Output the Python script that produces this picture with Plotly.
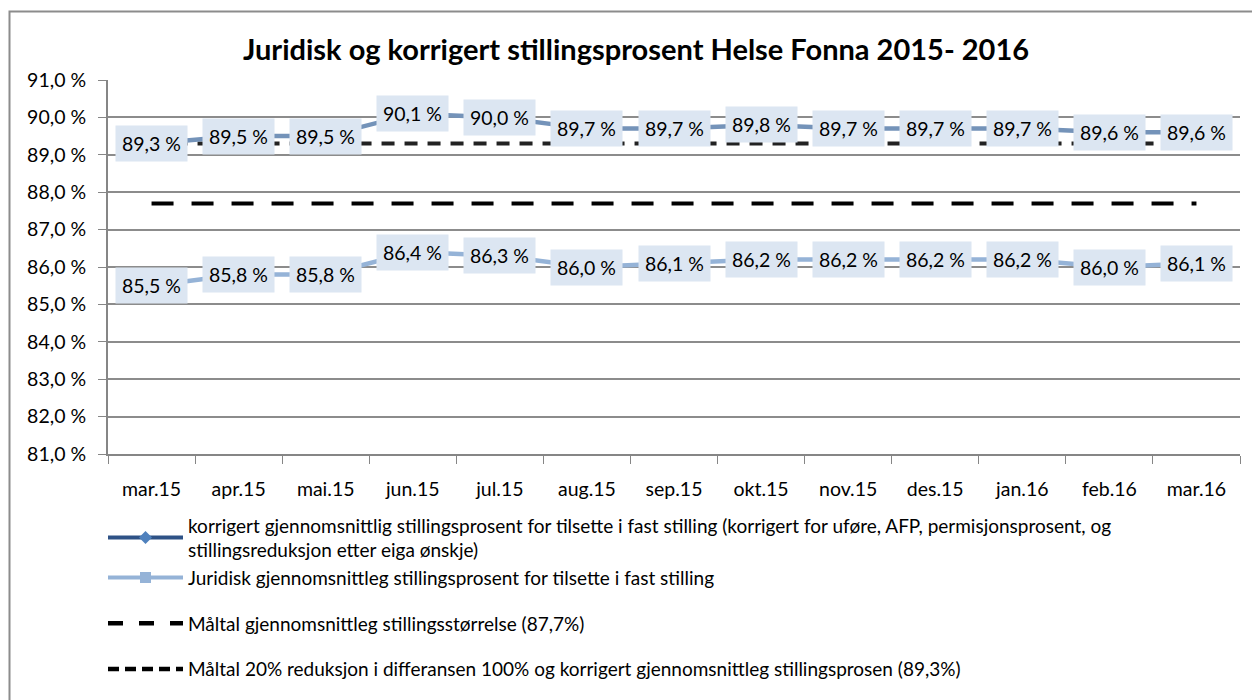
import plotly.graph_objects as go

categories = ["mar.15", "apr.15", "mai.15", "jun.15", "jul.15", "aug.15", "sep.15",
              "okt.15", "nov.15", "des.15", "jan.16", "feb.16", "mar.16"]
korrigert = [89.3, 89.5, 89.5, 90.1, 90.0, 89.7, 89.7, 89.8, 89.7, 89.7, 89.7, 89.6, 89.6]
juridisk = [85.5, 85.8, 85.8, 86.4, 86.3, 86.0, 86.1, 86.2, 86.2, 86.2, 86.2, 86.0, 86.1]
maltal_storrelse = [87.7] * len(categories)
maltal_reduksjon = [89.3] * len(categories)
y_ticks = [81, 82, 83, 84, 85, 86, 87, 88, 89, 90, 91]
y_ticklabels = [f"{v:.1f} %".replace(".", ",") for v in y_ticks]

names = [
    "korrigert gjennomsnittlig stillingsprosent for tilsette i fast stilling (korrigert for uføre, AFP, permisjonsprosent, og<br>stillingsreduksjon etter eiga ønskje)",
    "Juridisk gjennomsnittleg stillingsprosent for tilsette i fast stilling",
    "Måltal gjennomsnittleg stillingsstørrelse (87,7%)",
    "Måltal 20% reduksjon i differansen 100% og korrigert gjennomsnittleg stillingsprosen (89,3%)",
]

FONT = "Lato"
W, H = 1252, 700
L, R, T, B = 108, 12, 80, 241
pw, ph = W - L - R, H - T - B

fig = go.Figure()

# chart lines (no legend)
fig.add_trace(go.Scatter(x=categories, y=maltal_reduksjon, mode="lines",
                         line=dict(color="#222222", width=4, dash="13px,10px"),
                         showlegend=False, hoverinfo="skip"))
fig.add_trace(go.Scatter(x=categories, y=maltal_storrelse, mode="lines",
                         line=dict(color="black", width=4, dash="22px,18px"),
                         showlegend=False, hoverinfo="skip"))
fig.add_trace(go.Scatter(x=categories, y=korrigert, mode="lines",
                         line=dict(color="#7493B9", width=4.5),
                         showlegend=False))
fig.add_trace(go.Scatter(x=categories, y=juridisk, mode="lines",
                         line=dict(color="#95B3D7", width=4.5),
                         showlegend=False))

# legend entries
fig.add_trace(go.Scatter(x=[None], y=[None], mode="lines+markers", name=names[0],
                         line=dict(color="#2E5286", width=4),
                         marker=dict(symbol="diamond", size=10, color="#4F81BD"),
                         legendgroup="a"))
fig.add_trace(go.Scatter(x=[None], y=[None], mode="lines+markers", name=names[1],
                         line=dict(color="#95B3D7", width=4),
                         marker=dict(symbol="square", size=11, color="#95B3D7"),
                         legendgroup="a"))
fig.add_trace(go.Scatter(x=[None], y=[None], mode="lines", name=names[2],
                         line=dict(color="black", width=4.5, dash="15px,16px"),
                         legendgroup="b"))
fig.add_trace(go.Scatter(x=[None], y=[None], mode="lines", name=names[3],
                         line=dict(color="black", width=4.5, dash="11px,6px"),
                         legendgroup="c"))

# data labels
for series in (korrigert, juridisk):
    for c, v in zip(categories, series):
        fig.add_annotation(x=c, y=v, text=f"{v:.1f} %".replace(".", ","),
                           showarrow=False, bgcolor="#DCE6F2", borderpad=6,
                           font=dict(family=FONT, size=19.5, color="black"))

# outer border
fig.add_shape(type="rect", xref="paper", yref="paper",
              x0=(9.5 - L) / pw, x1=(1262 - L) / pw,
              y0=(H - B - 712) / ph, y1=(H - B - 10.5) / ph,
              line=dict(color="#8c8c8c", width=2), fillcolor="rgba(0,0,0,0)", layer="below")

fig.update_layout(
    width=W, height=H,
    margin=dict(l=L, r=R, t=T, b=B),
    paper_bgcolor="white", plot_bgcolor="white",
    title=dict(text="<b>Juridisk og korrigert stillingsprosent Helse Fonna 2015- 2016</b>",
               x=636 / W, xanchor="center", y=1 - 50 / H, yanchor="middle",
               font=dict(family=FONT, size=29, color="black")),
    font=dict(family=FONT, size=19.5, color="black"),
    xaxis=dict(type="category", tickson="boundaries", ticks="outside", ticklen=8,
               tickcolor="#868686", showline=True, linecolor="#868686", linewidth=2,
               showgrid=False, tickfont=dict(size=19.5), range=[-0.5, 12.5],
               ticklabelstandoff=17),
    yaxis=dict(range=[81, 91], tickvals=y_ticks, ticktext=y_ticklabels,
               ticks="outside", ticklen=8, tickcolor="#868686",
               showline=True, linecolor="#868686", linewidth=2,
               showgrid=True, gridcolor="#8c8c8c", gridwidth=1.5,
               zeroline=False, tickfont=dict(size=19.5), ticklabelstandoff=8),
    legend=dict(x=(103 - L) / pw, xanchor="left", y=(H - B - 512) / ph, yanchor="top",
                orientation="v", traceorder="grouped", tracegroupgap=18,
                itemwidth=75, font=dict(family=FONT, size=19, color="black"),
                bgcolor="rgba(0,0,0,0)"),
    showlegend=True,
)

fig.write_html("out.html", config={"displayModeBar": False},
               post_script="document.body.style.margin='0';document.body.style.overflow='hidden';")
